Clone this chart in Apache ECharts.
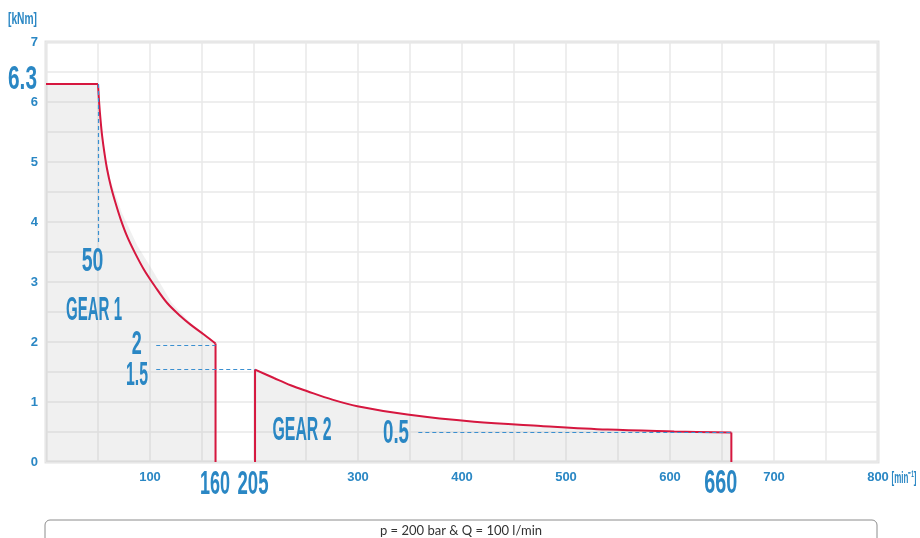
<!DOCTYPE html>
<html><head><meta charset="utf-8">
<script src="https://cdn.jsdelivr.net/npm/echarts@6/dist/echarts.min.js"></script>
<style>html,body{margin:0;padding:0;background:#fff}#c{width:920px;height:538px}</style>
</head><body><div id="c"></div>
<script>
// ---- data ----
// Gear 1: flat at 6.3 kNm up to 50 min^-1, then falling curve, then drop at ~160
const gear1Speed  = [50, 51.1, 52.4, 54.0, 56.2, 58.8, 62.3, 66.8, 71.9, 78.0, 85.4, 94.1, 104.7, 116.5, 129.4, 139.0, 151.8, 163];
const gear1Torque = [6.3, 5.99, 5.71, 5.43, 5.15, 4.875, 4.6, 4.32, 4.04, 3.76, 3.49, 3.21, 2.93, 2.65, 2.43, 2.29, 2.125, 1.975];
// grey shaded region under gear 1 (slightly outside the curve in the reference)
const gear1FillSpeed  = [0, 50, 52, 56, 62, 73, 88, 102, 121, 140, 164, 164];
const gear1FillTorque = [6.3, 6.3, 5.8, 5.2, 4.7, 4.15, 3.6, 3.21, 2.65, 2.3, 1.975, 0];
// Gear 2: rises at ~205, falling curve to ~660
const gear2Speed  = [201, 219.2, 235.2, 251.3, 275.3, 299.4, 347.5, 411.6, 475.8, 540, 604, 659];
const gear2Torque = [1.54, 1.40, 1.28, 1.18, 1.04, 0.93, 0.79, 0.67, 0.60, 0.54, 0.51, 0.49];
// dashed guide lines
const guideFrom = [[50, 6.3], [106, 1.95], [106, 1.54], [358, 0.49]];
const guideTo   = [[50, 3.65], [163, 1.95], [201, 1.54], [659, 0.49]];
const xTickLabels = ['100', '300', '400', '500', '600', '700', '800'];
const yTickLabels = ['0', '1', '2', '3', '4', '5', '6', '7'];
const xUnit = '[min⁻¹]';
const yUnit = '[kNm]';
const annotationTexts = ['6.3', '50', 'GEAR 1', '2', '1.5', 'GEAR 2', '0.5', '160', '205', '660'];
const footnote = 'p = 200 bar & Q = 100 l/min';

// ---- layout of annotations (pixel centre + target width) ----
const annotationLayout = [
  [22.5, 80, 29], [92.5, 262, 21.6], [94, 311, 56], [136.7, 345, 10], [137, 376, 22],
  [302, 431, 59], [396, 434, 26], [215, 485, 30], [253, 485, 31], [720.7, 484, 33]
];

const BLUE = '#2a87c4';
const RED = '#d6173f';
const FILL = 'rgba(175,175,175,0.27)';
const BIG_FONT = 'bold 33px "Liberation Sans", Arial, sans-serif';
const UNIT_FONT = 'bold 17px "Liberation Sans", Arial, sans-serif';
const cv = document.createElement('canvas').getContext('2d');
function widthOf(t, font) { cv.font = font; return cv.measureText(t).width; }

const chart = echarts.init(document.getElementById('c'), null, {renderer: 'canvas'});
const zip = (xs, ys) => xs.map((x, i) => [x, ys[i]]);

function fittedText(t, cx, cy, w, font) {
  return {
    type: 'text', x: cx, y: cy, scaleX: w / widthOf(t, font), z: 100,
    style: {text: t, fill: BLUE, font: font, textAlign: 'center', textVerticalAlign: 'middle'}
  };
}
const graphics = annotationTexts.map((t, i) => fittedText(t, annotationLayout[i][0], annotationLayout[i][1], annotationLayout[i][2], BIG_FONT));
graphics.push(fittedText(yUnit, 22.5, 19.5, 29, UNIT_FONT));
graphics.push(fittedText(xUnit, 904, 478, 25, UNIT_FONT));
graphics.push({
  type: 'rect', shape: {x: 45, y: 520, width: 832, height: 40, r: 5},
  style: {fill: '#fff', stroke: '#8c8c8c', lineWidth: 1}, z: 50
});
graphics.push({
  type: 'text', x: 461, y: 531, z: 51,
  style: {text: footnote, fill: '#333', font: '13px Lato, "Noto Sans", sans-serif', textAlign: 'center', textVerticalAlign: 'middle'}
});

const tickFont = {color: BLUE, fontWeight: 'bold', fontSize: 13, fontFamily: '"Liberation Sans Narrow", "Liberation Sans", Arial, sans-serif'};

// straight outline parts, built from the curve end points
const g1 = zip(gear1Speed, gear1Torque);
const g2 = zip(gear2Speed, gear2Torque);
const g1Last = g1[g1.length - 1], g2First = g2[0], g2Last = g2[g2.length - 1];
const gear2Fill = [[g2First[0], 0]].concat(g2, [[g2Last[0], 0]]);
const straight = [[0, g1[0][1]], g1[0], '-', g1Last, [g1Last[0], 0], '-', [g2First[0], 0], g2First, '-', g2Last, [g2Last[0], 0]];

const lineCommon = {type: 'line', showSymbol: false, symbol: 'none', silent: true};

chart.setOption({
  animation: false,
  grid: {left: 46, right: 42, top: 42, bottom: 76, containLabel: false, outerBoundsMode: 'none',
         show: true, borderColor: '#e2e2e2', borderWidth: 3, backgroundColor: 'transparent'},
  xAxis: {
    type: 'value', min: 0, max: 800, interval: 50,
    axisLine: {show: false}, axisTick: {show: false},
    splitLine: {show: true, lineStyle: {color: '#e9e9e9', width: 1.5}},
    axisLabel: Object.assign({margin: 9, formatter: v => xTickLabels.includes(String(v)) ? String(v) : ''}, tickFont)
  },
  yAxis: {
    type: 'value', min: 0, max: 7, interval: 0.5,
    axisLine: {show: false}, axisTick: {show: false},
    splitLine: {show: true, lineStyle: {color: '#e9e9e9', width: 1.5}},
    axisLabel: Object.assign({margin: 8, formatter: v => yTickLabels.includes(String(v)) ? String(v) : ''}, tickFont)
  },
  series: [
    Object.assign({}, lineCommon, {name: 'Gear 1 area', data: zip(gear1FillSpeed, gear1FillTorque),
      lineStyle: {width: 0, opacity: 0}, areaStyle: {color: FILL, origin: 0}, z: 2}),
    Object.assign({}, lineCommon, {name: 'Gear 2 area', data: gear2Fill,
      lineStyle: {width: 0, opacity: 0}, areaStyle: {color: FILL, origin: 0}, z: 2}),
    Object.assign({}, lineCommon, {name: 'Gear 1', data: g1, smooth: 0.35, lineStyle: {color: RED, width: 2}, z: 3}),
    Object.assign({}, lineCommon, {name: 'Gear 2', data: g2, smooth: 0.35, lineStyle: {color: RED, width: 2}, z: 3}),
    Object.assign({}, lineCommon, {name: 'limits', data: straight, connectNulls: false, lineStyle: {color: RED, width: 2}, z: 3}),
    Object.assign({}, lineCommon, {
      name: 'guides', data: [], z: 4,
      markLine: {
        silent: true, symbol: ['none', 'none'], label: {show: false},
        lineStyle: {color: '#3a8fd0', type: [4, 3], width: 1.2},
        data: guideFrom.map((f, i) => [{coord: f}, {coord: guideTo[i]}])
      }
    })
  ],
  graphic: graphics
});
</script></body></html>
